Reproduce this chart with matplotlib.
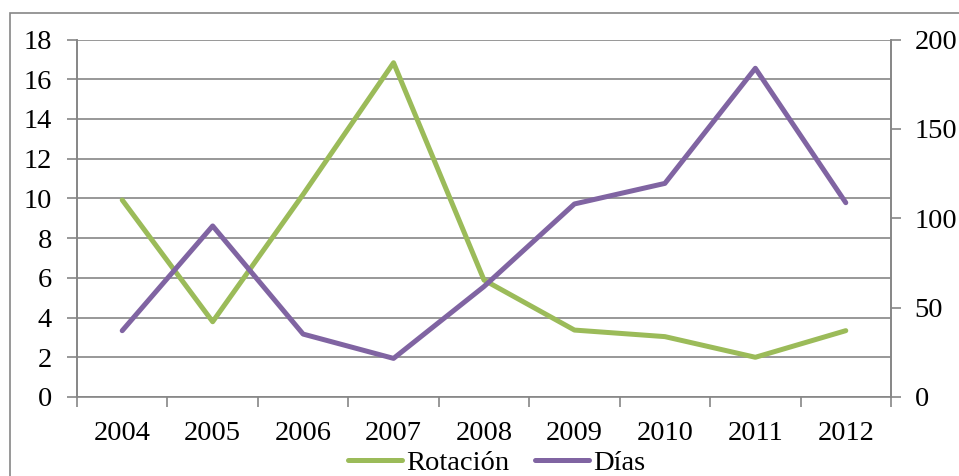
import numpy as np
import matplotlib.pyplot as plt
from matplotlib.patches import Rectangle

years = ['2004', '2005', '2006', '2007', '2008', '2009', '2010', '2011', '2012']
rotacion = [9.92, 3.79, 10.2, 16.83, 5.89, 3.37, 3.04, 2.0, 3.34]
dias = [37.1, 95.7, 35.2, 21.6, 61.8, 108.0, 119.5, 183.9, 108.7]

green = '#9BBB59'
purple = '#8064A2'
grid_gray = '#868686'
fs = 20.5

plt.rcParams['font.family'] = ['Liberation Serif', 'DejaVu Serif']

fig = plt.figure(figsize=(9.59, 4.76), dpi=100)
# chart border
fig.patches.append(Rectangle((10 / 959, -0.05), 1.2, 1 - 13 / 476 + 0.05,
                             transform=fig.transFigure, fill=False,
                             edgecolor=grid_gray, lw=1.2))

ax = fig.add_axes([77 / 959, 1 - 397 / 476, (891 - 77) / 959, (397 - 39.5) / 476])
ax2 = ax.twinx()

x = np.arange(len(years))
ax.plot(x, rotacion, color=green, lw=3.6, solid_capstyle='round', label='Rotación', zorder=3)
ax2.plot(x, dias, color=purple, lw=3.6, solid_capstyle='round', label='Días', zorder=3)

ax.set_xlim(-0.5, len(years) - 0.5)
ax.set_ylim(0, 18)
ax.set_yticks(np.arange(0, 19, 2))
ax2.set_ylim(0, 200)
ax2.set_yticks([0, 50, 100, 150, 200])

ax.set_xticks(x)
ax.set_xticklabels(years)
ax.set_xticks(np.arange(-0.5, len(years), 1), minor=True)
ax.tick_params(axis='x', which='major', length=0, pad=17, labelsize=fs)
ax.tick_params(axis='x', which='minor', length=7, width=1.2, color=grid_gray, direction='out')
ax.tick_params(axis='y', length=7, width=1.2, color=grid_gray, labelsize=fs, pad=11)
ax2.tick_params(axis='y', length=7, width=1.2, color=grid_gray, labelsize=fs, pad=10)

ax.grid(axis='y', color=grid_gray, lw=1.2)
ax.set_axisbelow(True)

for a in (ax, ax2):
    a.spines['top'].set_visible(False)
    for s in ('left', 'right', 'bottom'):
        a.spines[s].set_color(grid_gray)
        a.spines[s].set_linewidth(1.2)
ax2.spines['bottom'].set_visible(False)
ax.patch.set_visible(False)

h1, l1 = ax.get_legend_handles_labels()
h2, l2 = ax2.get_legend_handles_labels()
fig.legend(h1 + h2, l1 + l2, loc='center', bbox_to_anchor=(0.518, 0.027), ncol=2,
           frameon=False, fontsize=fs, handlelength=1.9, handletextpad=0.15,
           columnspacing=0.9, borderpad=0)

fig.savefig('out.png', dpi=100)
